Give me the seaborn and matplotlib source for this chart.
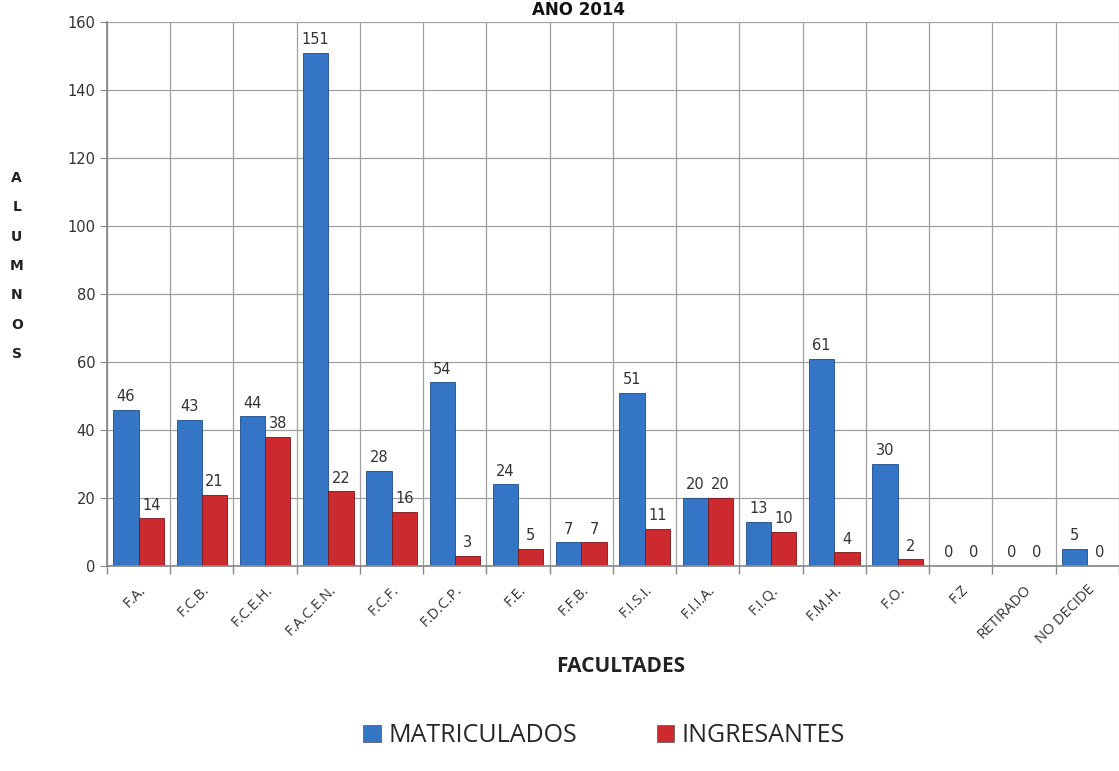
import pandas as pd
import numpy as np
import matplotlib
matplotlib.use("Agg")
import matplotlib.pyplot as plt
import seaborn as sns

# data
facultades = ["F.A.", "F.C.B.", "F.C.E.H.", "F.A.C.E.N.", "F.C.F.", "F.D.C.P.", "F.E.",
              "F.F.B.", "F.I.S.I.", "F.I.I.A.", "F.I.Q.", "F.M.H.", "F.O.", "F.Z",
              "RETIRADO", "NO DECIDE"]
matriculados = [46, 43, 44, 151, 28, 54, 24, 7, 51, 20, 13, 61, 30, 0, 0, 5]
ingresantes = [14, 21, 38, 22, 16, 3, 5, 7, 11, 20, 10, 4, 2, 0, 0, 0]
series = ["MATRICULADOS", "INGRESANTES"]
colors = ["#3575c6", "#cc2a2f"]

df = pd.DataFrame({
    "Facultad": facultades * 2,
    "Serie": [series[0]] * len(facultades) + [series[1]] * len(facultades),
    "Alumnos": matriculados + ingresantes,
})

sns.set_theme(style="white")
plt.rcParams['font.family'] = ['DejaVu Sans']

fig = plt.figure(figsize=(11.19, 7.71), dpi=100)
ax = fig.add_axes([0.0956, 0.266, 0.9044, 0.7055])

sns.barplot(data=df, x="Facultad", y="Alumnos", hue="Serie", palette=colors,
            saturation=1, width=0.8, ax=ax, edgecolor="#1f4a85", linewidth=0.6,
            legend=False)
# darker edge for red bars
for p in ax.containers[1]:
    p.set_edgecolor("#7a1518")

for cont in ax.containers:
    ax.bar_label(cont, padding=4, fontsize=10.5, color="#333333")

ax.set_ylim(0, 160)
ax.set_xlim(-0.5, len(facultades) - 0.5)
ax.set_yticks(range(0, 161, 20))
ax.tick_params(axis="y", labelsize=10.5, labelcolor="#333333", length=5,
               direction="out", left=True, width=0.8, color="#888888")

ax.set_xticks(range(len(facultades)))
ax.set_xticklabels(facultades, rotation=45, ha="right", rotation_mode="anchor",
                   fontsize=10.5, color="#333333", family=["Open Sans", "DejaVu Sans"])
ax.tick_params(axis="x", length=0, pad=12)
ax.set_xticks(np.arange(-0.5, len(facultades), 1), minor=True)
ax.tick_params(axis="x", which="minor", length=6, color="#888888", bottom=True)

ax.grid(axis="y", color="#a0a0a0", linewidth=0.9)
ax.grid(axis="x", which="minor", color="#a0a0a0", linewidth=0.9)
ax.set_axisbelow(True)
for s in ["top", "right"]:
    ax.spines[s].set_visible(False)
for s in ["left", "bottom"]:
    ax.spines[s].set_color("#888888")

ax.set_xlabel("")
ax.set_ylabel("")

fig.text(0.555, 0.135, "FACULTADES", ha="center", va="center", fontsize=15,
         fontweight="bold", family=["Open Sans", "DejaVu Sans"], color="#222222")
fig.text(0.015, 0.655, "\n".join("ALUMNOS"), ha="center", va="center", fontsize=10,
         fontweight="bold", linespacing=2.4, color="#222222")
fig.text(0.517, 0.999, "AÑO 2014", ha="center", va="top", fontsize=12,
         fontweight="bold", color="#111111")

handles = [plt.Rectangle((0, 0), 1, 1, facecolor=c, edgecolor="#555555", linewidth=0.5) for c in colors]
fig.legend(handles, series, loc="center", bbox_to_anchor=(0.54, 0.046), ncol=2,
           frameon=False, handlelength=0.7, handleheight=0.7,
           columnspacing=3.2, handletextpad=0.3,
           prop={"family": ["Open Sans", "DejaVu Sans"], "size": 18})

fig.savefig("out.png", dpi=100)
